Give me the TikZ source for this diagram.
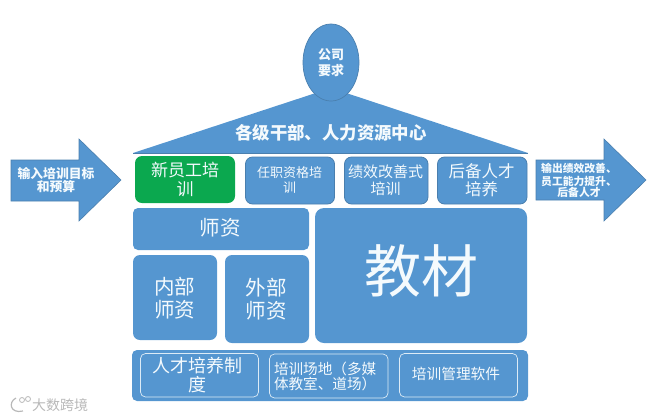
\documentclass[tikz,border=0pt]{standalone}
\usepackage{fontspec}
\usetikzlibrary{shapes.geometric}
\newfontfamily\cjk{Noto Sans CJK SC}
\definecolor{bluefill}{HTML}{5596D0}
\definecolor{blueedge}{HTML}{4A7FAE}
\definecolor{greenfill}{HTML}{0BA84F}
\definecolor{txt}{HTML}{F4FAFD}
\tikzset{
  x=1pt,y=-1pt,
  every node/.style={font=\cjk,text=txt,align=center,inner sep=0pt},
  bx/.style={draw=none,fill=bluefill,rounded corners=7pt},
  edged/.style={bx,draw=blueedge,line width=0.8pt},
  inbox/.style={draw=txt!85!bluefill,line width=0.7pt,rounded corners=5pt},
  arrowshape/.style={fill=bluefill,draw=blueedge,line width=0.6pt},
  lab/.style={font=\cjk\bfseries\fontsize{#1}{#1}\selectfont},
  plain/.style={font=\cjk\fontsize{#1}{#1}\selectfont\setlength{\baselineskip}{1.1\baselineskip}}
}
\begin{document}
\begin{tikzpicture}
\useasboundingbox (0,0) rectangle (663,418);
% arrows
\draw[arrowshape] (11,160) -- (79,160) -- (79,139) -- (121,180) -- (79,221) -- (79,201) -- (11,201) -- cycle;
\draw[arrowshape] (536,160) -- (604,160) -- (604,139) -- (646,180) -- (604,221) -- (604,200) -- (536,200) -- cycle;
\node[lab=13,text width=80] (inl) at (56,180) {\fontsize{12.8}{15}\selectfont 输入培训目标\\和预算};
\node[lab=10,text width=90] (outl) at (579,180.5) {\fontsize{10.8}{12.6}\selectfont 输出绩效改善、\\员工能力提升、\\后备人才};
% roof and ellipse
\fill[bluefill] (133,153) -- (331,88) -- (528,153) -- cycle;
\draw[blueedge,line width=0.6pt] (133,153) -- (528,153);
\node[ellipse,minimum width=56,minimum height=77,fill=bluefill,draw=blueedge,line width=0.7pt,font=\cjk\bfseries\fontsize{13}{16}\selectfont] (gs) at (331,62.5) {公司\\要求};
\node[font=\cjk\bfseries\fontsize{17.4}{20}\selectfont] (roof) at (331,133) {各级干部、人力资源中心};
% top row
\path[bx,fill=greenfill,draw=none] (135,156) rectangle (235,203);
\node[plain=17] (a) at (185,179.5) {新员工培\\训};
\path[edged] (245.5,157) rectangle (334.5,204);
\node[plain=13] (b) at (289.5,180) {任职资格培\\训};
\path[edged] (344.5,157) rectangle (428,204);
\node[plain=15] (c) at (385.5,180.5) {绩效改善式\\培训};
\path[edged] (437.5,157) rectangle (527,204);
\node[plain=16.5] (d) at (481.5,180.5) {后备人才\\培养};
% middle
\path[bx,rounded corners=5pt] (133,208) rectangle (309,250);
\node[plain=20.5] (e) at (220,228) {师资};
\path[bx] (133,255) rectangle (217,340);
\node[plain=20.5] (f) at (174.5,298) {内部\\师资};
\path[bx] (225,255) rectangle (309,343);
\node[plain=20.5] (g) at (266,299) {外部\\师资};
\path[bx,rounded corners=9pt] (315,208) rectangle (527,343);
\node[plain=57] (h) at (421,271) {教材};
% bottom
\path[bx,fill=bluefill,rounded corners=5pt] (132,350) rectangle (528,401);
\draw[inbox] (140.5,353.5) rectangle (258.5,397);
\node[plain=18] (i) at (197,375) {人才培养制\\度};
\draw[inbox] (269.5,354) rectangle (388,398);
\node[font=\cjk\fontsize{14.6}{15}\selectfont,text width=103,align=left] (j) at (325.5,376) {培训场地（多媒\\体教室、道场）};
\draw[inbox] (399.5,353.5) rectangle (517.5,397);
\node[plain=14.7] (k) at (456,373.5) {培训管理软件};
% watermark
\node[font=\cjk\fontsize{14}{14}\selectfont,text=black!28] (w) at (60,405) {大数跨境};
\draw[black!28,line width=1.2pt] (16,398) .. controls (8,402) and (10,414) .. (23,411);
\draw[black!28,line width=0.8pt] (22,400) circle (2.5) (28,399) circle (2.5);
\end{tikzpicture}
\end{document}
